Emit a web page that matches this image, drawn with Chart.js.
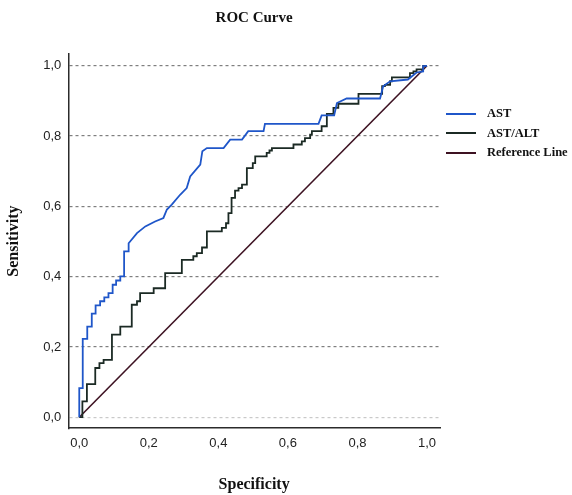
<!DOCTYPE html>
<html>
<head>
<meta charset="utf-8">
<title>ROC Curve</title>
<script src="https://cdn.jsdelivr.net/npm/chart.js@4.4.1/dist/chart.umd.min.js"></script>
<style>
  html, body { margin: 0; padding: 0; background: #fff; }
  #wrap { position: relative; width: 572px; height: 495px; }
  #legenda {
    position: absolute; left: 446px; top: 104px;
    font: bold 12.5px "Liberation Serif", "Times New Roman", serif; color: #111;
  }
  .item { display: flex; align-items: center; height: 19.5px; white-space: nowrap; }
  .traco { width: 30px; height: 2px; margin-right: 11px; }
</style>
</head>
<body>
<div id="wrap">
  <canvas id="grafico" width="572" height="495"></canvas>
  <div id="legenda"></div>
</div>
<script>
// curva AST (1 - especificidade, sensibilidade)
const astFpr = [0,0,0.010,0.010,0.023,0.023,0.036,0.036,0.047,0.047,0.060,0.060,0.072,0.072,0.084,0.084,0.096,0.096,0.106,0.106,0.118,0.118,0.129,0.129,0.142,0.142,0.166,0.190,0.218,0.242,0.252,0.266,0.290,0.309,0.319,0.348,0.354,0.367,0.415,0.434,0.468,0.486,0.530,0.534,0.688,0.697,0.733,0.741,0.769,0.865,0.874,0.894,0.945,0.970,0.989,0.989,1];
const astTpr = [0,0.083,0.083,0.223,0.223,0.258,0.258,0.295,0.295,0.318,0.318,0.330,0.330,0.341,0.341,0.353,0.353,0.377,0.377,0.389,0.389,0.401,0.401,0.472,0.472,0.495,0.524,0.543,0.557,0.567,0.591,0.605,0.633,0.652,0.685,0.719,0.757,0.766,0.766,0.790,0.790,0.814,0.814,0.835,0.835,0.859,0.859,0.894,0.907,0.907,0.942,0.956,0.961,0.981,0.984,0.999,1];

// curva AST/ALT (degraus: anda para a direita, depois sobe)
const astAltFpr = [0,0.009,0.022,0.046,0.058,0.070,0.094,0.118,0.151,0.166,0.175,0.214,0.247,0.295,0.328,0.338,0.353,0.367,0.410,0.422,0.429,0.438,0.448,0.458,0.468,0.482,0.499,0.506,0.539,0.547,0.554,0.616,0.640,0.649,0.664,0.669,0.697,0.712,0.731,0.745,0.803,0.871,0.879,0.894,0.899,0.951,0.961,0.970,0.989,1];
const astAltTpr = [0,0.045,0.094,0.140,0.154,0.163,0.235,0.258,0.320,0.330,0.353,0.367,0.410,0.448,0.458,0.467,0.483,0.529,0.539,0.552,0.581,0.624,0.645,0.652,0.662,0.709,0.723,0.742,0.752,0.759,0.766,0.776,0.785,0.794,0.804,0.814,0.828,0.863,0.880,0.892,0.920,0.942,0.946,0.956,0.967,0.979,0.984,0.990,1,1];

// linha de referencia
const refX = [0, 1];
const refY = [0, 1];

const ticksEixo = [0, 0.2, 0.4, 0.6, 0.8, 1.0];
const rotulos = ["AST", "AST/ALT", "Reference Line"];

const pontos = (xs, ys) => xs.map((x, i) => ({ x, y: ys[i] }));
const fmt = v => v.toFixed(1).replace(".", ",");
const fixarTicks = s => { s.ticks = ticksEixo.map(v => ({ value: v })); };

const serif = '"Liberation Serif", "Times New Roman", serif';
const sans = '"Liberation Sans", Arial, sans-serif';

const grafico = new Chart(document.getElementById("grafico"), {
  type: "scatter",
  data: {
    datasets: [
      { label: rotulos[0], data: pontos(astFpr, astTpr), borderColor: "#1f56c9", borderWidth: 1.8 },
      { label: rotulos[1], data: pontos(astAltFpr, astAltTpr), borderColor: "#1b2a24", borderWidth: 1.8, stepped: "before" },
      { label: rotulos[2], data: pontos(refX, refY), borderColor: "#3d1222", borderWidth: 1.6 }
    ]
  },
  options: {
    responsive: false,
    animation: false,
    devicePixelRatio: 1,
    showLine: true,
    elements: { point: { radius: 0, hoverRadius: 0 }, line: { tension: 0 } },
    layout: { padding: { left: 0, right: 132, top: 0, bottom: 0 } },
    plugins: {
      legend: { display: false },
      tooltip: { enabled: false },
      title: {
        display: true,
        text: "ROC Curve",
        fullSize: false,
        color: "#111",
        font: { family: serif, size: 15, weight: "bold" },
        padding: { top: 9, bottom: 27 }
      }
    },
    scales: {
      x: {
        type: "linear",
        min: -0.0316,
        max: 1.0374,
        afterBuildTicks: fixarTicks,
        grid: { drawOnChartArea: false, drawTicks: false },
        border: { display: true, color: "#2b2b2b", width: 1.5 },
        ticks: { padding: 7, color: "#222", font: { family: sans, size: 13 }, callback: fmt },
        title: {
          display: true, text: "Specificity", color: "#111",
          font: { family: serif, size: 16, weight: "bold" },
          padding: { top: 17, bottom: 1 }
        }
      },
      y: {
        type: "linear",
        min: -0.0313,
        max: 1.0336,
        afterBuildTicks: fixarTicks,
        grid: {
          drawTicks: false,
          lineWidth: 1.2,
          color: c => (c.tick && c.tick.value === 0 ? "#c9c9c9" : "#7f7f7f")
        },
        border: { display: true, color: "#2b2b2b", width: 1.5, dash: [3, 3] },
        ticks: { padding: 7, color: "#222", font: { family: sans, size: 13 }, callback: fmt },
        title: {
          display: true, text: "Sensitivity", color: "#111",
          font: { family: serif, size: 16, weight: "bold" },
          padding: { top: 4, bottom: 13 }
        }
      }
    }
  }
});

// legenda em html, a partir dos datasets
const legenda = document.getElementById("legenda");
grafico.data.datasets.forEach(d => {
  legenda.innerHTML += `
    <div class="item">
      <span class="traco" style="background:${d.borderColor}"></span>
      <span>${d.label}</span>
    </div>`;
});
</script>
</body>
</html>
